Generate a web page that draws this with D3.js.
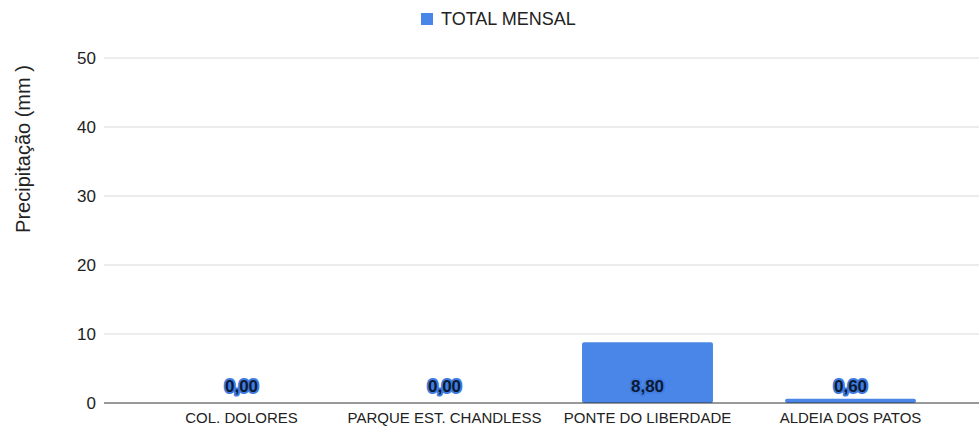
<!DOCTYPE html>
<html>
<head>
<meta charset="utf-8">
<script src="https://cdn.jsdelivr.net/npm/d3@7"></script>
<style>
  body { margin: 0; background: #fff; }
  text { font-family: Arial, "Liberation Sans", sans-serif; }
</style>
</head>
<body>
<div class="chart"></div>
<script>
// dados do grafico
var categorias = ['COL. DOLORES', 'PARQUE EST. CHANDLESS', 'PONTE DO LIBERDADE', 'ALDEIA DOS PATOS'];
var valores = [0, 0, 8.8, 0.6];
var ticksY = [0, 10, 20, 30, 40, 50];
var serie = 'TOTAL MENSAL';

var svg_width = 979,
    svg_height = 428,
    cor = '#4a86e8',
    svg = d3.select('.chart').append('svg').attr('width', svg_width).attr('height', svg_height);

var gridLeft = 104, gridRight = 979;

var x = d3.scaleBand().domain(categorias).range([140, 952]).paddingInner(0.355).paddingOuter(0.1775);
var y = d3.scaleLinear().domain([0, 50]).range([403, 58]);

// linhas de grade
svg.selectAll('.grid').data(ticksY.slice(1)).enter().append('line')
  .attr('x1', gridLeft).attr('x2', gridRight)
  .attr('y1', function(d) { return y(d); }).attr('y2', function(d) { return y(d); })
  .attr('stroke', '#d9d9d9').attr('stroke-width', 1);

// rotulos eixo y
svg.selectAll('.ytick').data(ticksY).enter().append('text')
  .attr('x', 96).attr('y', function(d) { return y(d); })
  .attr('dy', '0.35em').attr('text-anchor', 'end')
  .attr('font-size', 17).attr('fill', '#222')
  .text(function(d) { return d; });

// titulo eixo y
svg.append('text')
  .attr('transform', 'translate(30,149) rotate(-90)')
  .attr('text-anchor', 'middle').attr('font-size', 20).attr('fill', '#222')
  .text('Precipitação (mm )');

var data = categorias.map(function(c, i) { return { k: c, v: valores[i] }; });

// barras
svg.selectAll('.bar').data(data).enter().append('rect')
  .attr('x', function(d) { return x(d.k); })
  .attr('y', function(d) { return y(d.v); })
  .attr('width', x.bandwidth())
  .attr('height', function(d) { return y(0) - y(d.v); })
  .attr('rx', 2)
  .attr('fill', cor);

// eixo x
svg.append('line')
  .attr('x1', gridLeft).attr('x2', gridRight)
  .attr('y1', y(0)).attr('y2', y(0))
  .attr('stroke', '#333').attr('stroke-width', 1);

svg.selectAll('.xlab').data(categorias).enter().append('text')
  .attr('x', function(d) { return x(d) + x.bandwidth() / 2; })
  .attr('y', 423)
  .attr('text-anchor', 'middle').attr('font-size', 15).attr('fill', '#222')
  .text(function(d) { return d; });

// rotulos de valor
svg.selectAll('.vlab').data(data).enter().append('text')
  .attr('x', function(d) { return x(d.k) + x.bandwidth() / 2; })
  .attr('y', y(0) - 11)
  .attr('text-anchor', 'middle').attr('font-size', 17).attr('font-weight', 'bold')
  .attr('fill', '#0a1a33')
  .attr('stroke', '#3f7be0').attr('stroke-width', 4).attr('stroke-linejoin', 'round')
  .attr('paint-order', 'stroke')
  .text(function(d) { return d3.format('.2f')(d.v).replace('.', ','); });

// legenda
svg.append('rect').attr('x', 421).attr('y', 13).attr('width', 12).attr('height', 12).attr('fill', cor);
svg.append('text').attr('x', 441).attr('y', 19).attr('dy', '0.35em')
  .attr('font-size', 18).attr('fill', '#222').text(serie);
</script>
</body>
</html>
